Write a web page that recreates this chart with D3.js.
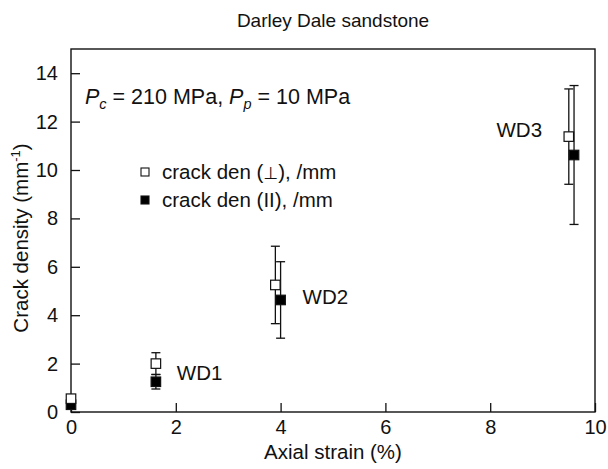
<!DOCTYPE html>
<html>
<head>
<meta charset="utf-8">
<script src="https://cdn.jsdelivr.net/npm/d3@7"></script>
<style>
  html, body { margin: 0; padding: 0; background: #fff; }
  svg { display: block; font-family: "Liberation Sans", Arial, Helvetica, sans-serif; }
</style>
</head>
<body>
<svg id="chart" width="608" height="469"></svg>
<script>
// Crack densities of Darley Dale sandstone after axial loading
const sampleLabels = ["WD0", "WD1", "WD2", "WD3"];
const strainPerp = [0, 1.62, 3.9, 9.5];
const densityPerp = [0.55, 2.0, 5.25, 11.38];
const errPerp = [0, 0.45, 1.6, 1.97];
const strainPar = [0, 1.62, 4.0, 9.6];
const densityPar = [0.3, 1.25, 4.63, 10.62];
const errPar = [0, 0.3, 1.58, 2.87];
const xTicks = [0, 2, 4, 6, 8, 10];
const yTicks = [0, 2, 4, 6, 8, 10, 12, 14];
// Sample tags placed next to each group (value coordinates)
const tagText = ["WD1", "WD2", "WD3"];
const tagX = [2.02, 4.42, 8.12];
const tagY = [1.32, 4.46, 11.38];

const FONT = "Liberation Sans, Arial, Helvetica, sans-serif";
const svg = d3.select("#chart");
const m = { left: 71, right: 595, top: 49, bottom: 412 };

const x = d3.scaleLinear().domain([0, 10]).range([m.left, m.right]);
const y = d3.scaleLinear().domain([0, 15]).range([m.bottom, m.top]);

// Frame
svg.append("rect")
  .attr("x", m.left).attr("y", m.top)
  .attr("width", m.right - m.left).attr("height", m.bottom - m.top)
  .attr("fill", "none").attr("stroke", "#111").attr("stroke-width", 1.4);

// Axes with inward ticks
const xAxis = d3.axisBottom(x).tickValues(xTicks).tickSizeInner(-9).tickSizeOuter(0).tickPadding(8)
  .tickFormat(d3.format("d"));
const gx = svg.append("g").attr("transform", `translate(0,${m.bottom})`).call(xAxis);
gx.select(".domain").remove();
gx.selectAll(".tick line").attr("stroke", "#111").attr("stroke-width", 1.3);
gx.selectAll(".tick text").attr("font-size", 20).attr("fill", "#111").attr("font-family", FONT);

const yAxis = d3.axisLeft(y).tickValues(yTicks).tickSizeInner(-9).tickSizeOuter(0).tickPadding(13)
  .tickFormat(d3.format("d"));
const gy = svg.append("g").attr("transform", `translate(${m.left},0)`).call(yAxis);
gy.select(".domain").remove();
gy.selectAll(".tick line").attr("stroke", "#111").attr("stroke-width", 1.3);
gy.selectAll(".tick text").attr("font-size", 20).attr("fill", "#111").attr("font-family", FONT);

// Title and axis labels
svg.append("text").attr("x", 333).attr("y", 27).attr("text-anchor", "middle")
  .attr("font-size", 19).attr("fill", "#111").text("Darley Dale sandstone");

svg.append("text").attr("x", 333).attr("y", 459).attr("text-anchor", "middle")
  .attr("font-size", 20.5).attr("fill", "#111").text("Axial strain (%)");

const yl = svg.append("text").attr("transform", "translate(28,238) rotate(-90)")
  .attr("text-anchor", "middle").attr("font-size", 20.5).attr("fill", "#111");
yl.append("tspan").text("Crack density (mm");
yl.append("tspan").attr("font-size", 13).attr("dy", -8).text("-1");
yl.append("tspan").attr("dy", 8).text(")");

// Loading conditions
const ann = svg.append("text").attr("x", 85).attr("y", 104).attr("font-size", 21.5).attr("fill", "#111");
ann.append("tspan").attr("font-style", "italic").text("P");
ann.append("tspan").attr("font-style", "italic").attr("font-size", 14.5).attr("dy", 5).text("c");
ann.append("tspan").attr("dy", -5).text(" = 210 MPa, ");
ann.append("tspan").attr("font-style", "italic").text("P");
ann.append("tspan").attr("font-style", "italic").attr("font-size", 14.5).attr("dy", 5).text("p");
ann.append("tspan").attr("dy", -5).text(" = 10 MPa");

// Error bars + markers
function drawSeries(xs, ys, es, filled) {
  const g = svg.append("g");
  const cap = 4.5;
  xs.forEach((xv, i) => {
    if (es[i] > 0) {
      const cx = x(xv), y0 = y(ys[i] - es[i]), y1 = y(ys[i] + es[i]);
      g.append("line").attr("x1", cx).attr("x2", cx).attr("y1", y0).attr("y2", y1)
        .attr("stroke", "#111").attr("stroke-width", 1.3);
      [y0, y1].forEach(v => g.append("line").attr("x1", cx - cap).attr("x2", cx + cap)
        .attr("y1", v).attr("y2", v).attr("stroke", "#111").attr("stroke-width", 1.3));
    }
  });
  const s = 9.5;
  g.selectAll("rect").data(xs).join("rect")
    .attr("x", (d) => x(d) - s / 2)
    .attr("y", (d, i) => y(ys[i]) - s / 2)
    .attr("width", s).attr("height", s)
    .attr("fill", filled ? "#000" : "#fff")
    .attr("stroke", "#111").attr("stroke-width", 1.2);
}
drawSeries(strainPar, densityPar, errPar, true);
drawSeries(strainPerp, densityPerp, errPerp, false);

// Sample tags
tagText.forEach((t, i) => {
  svg.append("text").attr("x", x(tagX[i])).attr("y", y(tagY[i]))
    .attr("font-size", 20.5).attr("fill", "#111").text(t);
});

// Legend: each label is split so the perpendicular sign uses a font that has it
const legend = [
  { parts: ["crack den (", "\u22A5", "), /mm"], filled: false },
  { parts: ["crack den (II), /mm"], filled: true }
];
legend.forEach((d, i) => {
  const ly = 172 + i * 28;
  svg.append("rect").attr("x", 141).attr("y", ly - 4).attr("width", 8).attr("height", 8)
    .attr("fill", d.filled ? "#000" : "#fff").attr("stroke", "#111").attr("stroke-width", 1.1);
  const t = svg.append("text").attr("x", 162).attr("y", ly + 7).attr("font-size", 20.5)
    .attr("fill", "#111");
  d.parts.forEach(p => {
    const sp = t.append("tspan").text(p);
    if (p === "\u22A5") sp.attr("font-family", "DejaVu Sans").attr("font-size", 17).attr("fill", "#111");
  });
});
</script>
</body>
</html>
